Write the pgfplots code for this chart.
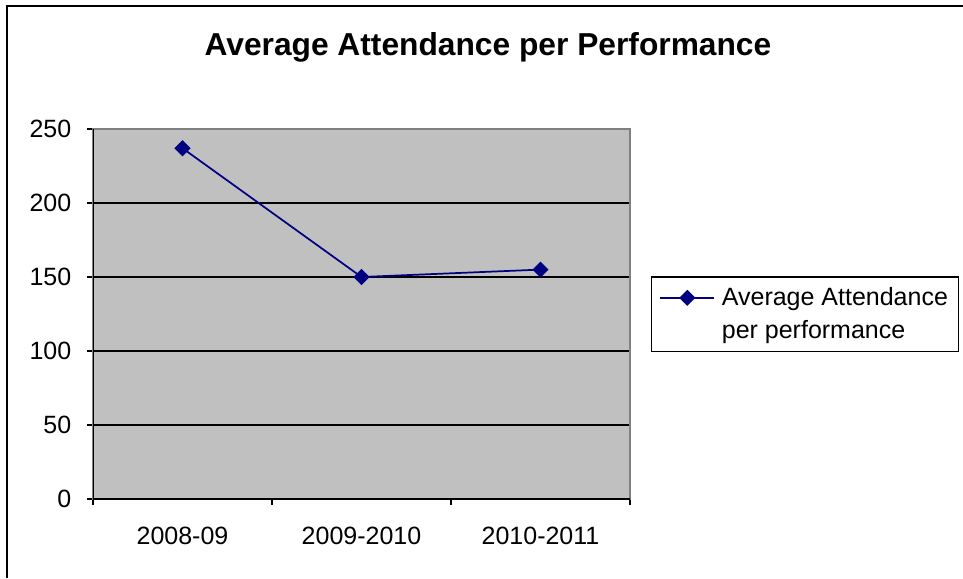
\documentclass[border=0pt]{standalone}
\usepackage{fontspec}
\setmainfont{Liberation Sans}
\usepackage{pgfplots}
\pgfplotsset{compat=1.18}
\definecolor{plotgray}{HTML}{C0C0C0}
\definecolor{navyline}{HTML}{000080}
\definecolor{bordergray}{HTML}{808080}
\begin{document}
\begin{tikzpicture}[x=0.75pt,y=0.75pt]
\useasboundingbox (0,0) rectangle (963,578);
\coordinate (P) at (93,79);
\draw[line width=2pt] (7,0) -- (7,572) -- (963,572);
\node[anchor=base, font=\fontsize{23.8}{28}\selectfont\bfseries] at (488,522) {Average Attendance per Performance};
\begin{axis}[
  at={(P)}, anchor=origin,
  width=402.75pt, height=277.5pt, scale only axis,
  xmin=0, xmax=3, ymin=0, ymax=250,
  xtick={0,1,2,3},
  xticklabels={2008-09,2009-2010,2010-2011},
  x tick label as interval,
  ytick={0,50,100,150,200,250},
  tick align=outside, tick pos=left,
  major tick length=4.5pt,
  tick style={black, line width=1.5pt},
  ymajorgrids, xmajorgrids=false,
  major grid style={black, line width=1.5pt},
  axis background/.style={fill=plotgray},
  axis line style={draw=bordergray, line width=1.5pt},
  /pgf/number format/assume math mode=true,
  ticklabel style={font=\fontsize{18.75}{22}\selectfont},
  xticklabel style={yshift=-12.75pt},
  yticklabel style={xshift=-8.25pt},
  legend style={at={(1.0385,0.6027)}, anchor=north west, draw=black, line width=1.2pt,
     fill=white, font=\fontsize{18.75}{24}\selectfont, inner xsep=6pt, inner ysep=6.25pt,
     row sep=5.25pt, column sep=3pt},
  legend cell align=left,
  legend image code/.code={\draw[mark repeat=2,mark phase=2] plot coordinates {(0pt,0pt)(20.25pt,0pt)(40.5pt,0pt)};},
]
\addplot[color=navyline, line width=1.3pt, mark=square*, mark size=3.6pt,
  mark options={rotate=45, solid, fill=navyline}] coordinates {(0.5,237) (1.5,150) (2.5,155)};
\addlegendentry{Average Attendance}
\addlegendimage{empty legend}
\addlegendentry{per performance}
\draw[black, line width=1.5pt] (rel axis cs:0,1) -- (rel axis cs:0,0) -- (rel axis cs:1,0);
\end{axis}
\end{tikzpicture}
\end{document}
